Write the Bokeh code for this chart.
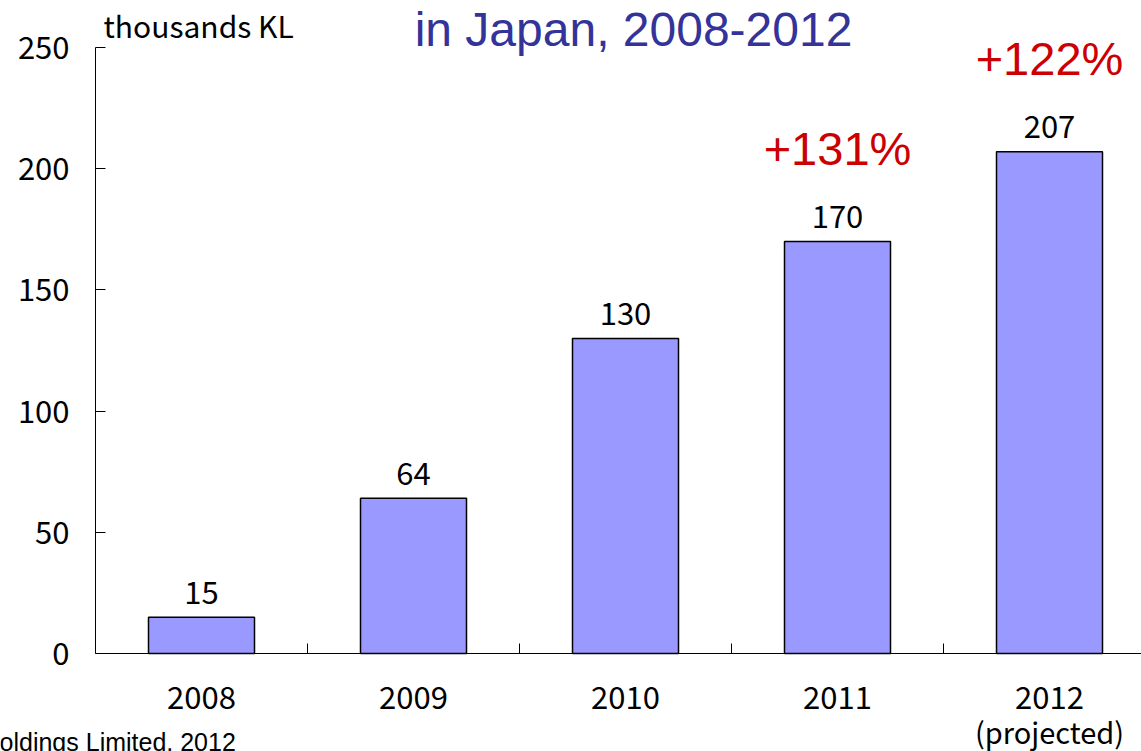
from bokeh.plotting import figure
from bokeh.models import Range1d, FixedTicker, ColumnDataSource, Label
from bokeh.core.properties import value
from bokeh.embed import file_html
from bokeh.resources import INLINE

years = ["2008", "2009", "2010", "2011", "2012"]
year_notes = ["", "", "", "", "(projected)"]
volumes = [15, 64, 130, 170, 207]
growth_labels = ["", "", "", "+131%", "+122%"]
y_ticks = [0, 50, 100, 150, 200, 250]
title_text = "in Japan, 2008-2012"
unit_text = "thousands KL"
source_text = "Holdings Limited, 2012"

JP = "Noto Sans CJK JP"
SANS = "Liberation Sans"
W, H = 1141, 751
X0, Y0 = 95, 653          # pixel position of the axes corner
PXX, PXY = 212, 2.424     # pixels per category / per unit


def dx(px):
    return 0.5 + (px - X0) / PXX


def dy(py):
    return (Y0 - py) / PXY


xs = list(range(1, len(years) + 1))
src = ColumnDataSource(dict(x=xs, top=volumes, lab=[str(v) for v in volumes], g=growth_labels))

p = figure(frame_width=W, frame_height=H, output_backend="svg", toolbar_location=None,
           x_range=Range1d(dx(0), dx(W)), y_range=Range1d(dy(H), dy(0)),
           min_border_left=100, min_border_right=0, min_border_top=0, min_border_bottom=0,
           margin=(0, 0, 0, -100))
p.outline_line_color = None
p.xgrid.visible = False
p.ygrid.visible = False
p.background_fill_color = "white"
p.border_fill_color = "white"

p.vbar(x="x", top="top", width=0.5, bottom=0, source=src,
       fill_color="#9999ff", line_color="black", line_width=1.5)

p.text(x="x", y="top", text="lab", source=src, y_offset=-25,
       text_align="center", text_baseline="alphabetic",
       text_font=value(JP), text_font_size="31px", text_color="black")
p.text(x="x", y="top", text="g", source=src, y_offset=-93,
       text_align="center", text_baseline="alphabetic",
       text_font=value(SANS), text_font_size="47px", text_color="#cc0000")

# y axis
ya = p.yaxis[0]
ya.fixed_location = 0.5
ya.bounds = (y_ticks[0], y_ticks[-1])
ya.ticker = FixedTicker(ticks=y_ticks)
ya.major_tick_in = 10
ya.major_tick_out = 0
ya.minor_tick_line_color = None
ya.axis_line_color = "black"
ya.major_tick_line_color = "black"
ya.major_label_text_font = JP
ya.major_label_text_font_size = "31px"
ya.major_label_text_color = "black"
ya.major_label_standoff = 26

# x axis
xa = p.xaxis[0]
xa.fixed_location = 0
xa.bounds = (0.5, dx(W))
xa.ticker = FixedTicker(ticks=xs, minor_ticks=[x + 0.5 for x in xs[:-1]])
xa.major_label_overrides = {x: y for x, y in zip(xs, years)}
xa.major_tick_in = 0
xa.major_tick_out = 0
xa.minor_tick_in = 10
xa.minor_tick_out = 0
xa.minor_tick_line_color = "black"
xa.axis_line_color = "black"
xa.major_label_text_font = JP
xa.major_label_text_font_size = "31px"
xa.major_label_text_color = "black"
xa.major_label_standoff = 32

p.add_layout(Label(x=dx(633), y=dy(29), text=title_text,
                   text_align="center", text_baseline="alphabetic",
                   text_font=SANS, text_font_size="48px", text_color="#333399"))
p.add_layout(Label(x=dx(103), y=dy(24), text=unit_text,
                   text_align="left", text_baseline="alphabetic",
                   text_font=JP, text_font_size="30px", text_color="black"))
p.add_layout(Label(x=dx(-19), y=dy(741), text=source_text,
                   text_align="left", text_baseline="alphabetic",
                   text_font=SANS, text_font_size="25px", text_color="black"))
for x, note in zip(xs, year_notes):
    if note:
        p.add_layout(Label(x=x, y=dy(730), text=note,
                           text_align="center", text_baseline="alphabetic",
                           text_font=JP, text_font_size="29px", text_color="black"))

open("out.html", "w").write(file_html(p, INLINE))
